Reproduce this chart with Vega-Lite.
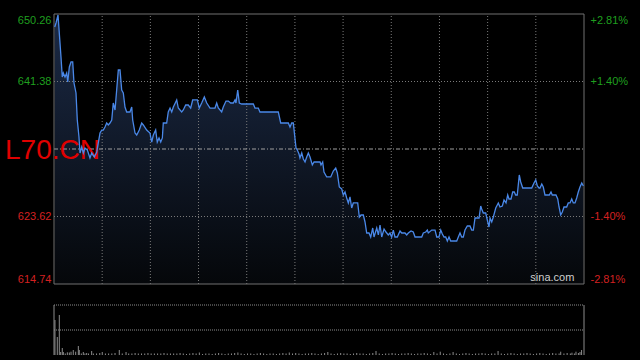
{
  "$schema": "https://vega.github.io/schema/vega-lite/v6.json",
  "width": 530,
  "height": 341,
  "autosize": {"type": "none"},
  "padding": {"left": 54, "top": 14, "right": 56, "bottom": 5},
  "background": "#000000",
  "config": {
    "view": {"stroke": null},
    "axis": {"labelFont": "Liberation Sans", "labelFontSize": 11, "ticks": false, "domain": false, "grid": false, "title": null}
  },
  "datasets": {
    "price": [
      {"t":0.9,"p":648.55},{"t":2.5,"p":649.08},{"t":5.0,"p":650.13},{"t":8.7,"p":644.60},{"t":10.3,"p":641.97},{"t":11.6,"p":642.50},{"t":13.7,"p":641.97},{"t":15.8,"p":642.50},{"t":17.1,"p":641.31},{"t":19.1,"p":643.29},{"t":21.2,"p":643.95},{"t":23.3,"p":643.95},{"t":24.9,"p":641.18},{"t":27.4,"p":639.87},{"t":29.0,"p":636.31},{"t":31.1,"p":634.08},{"t":32.4,"p":631.97},{"t":34.5,"p":632.76},{"t":36.5,"p":631.97},{"t":38.6,"p":632.63},{"t":41.5,"p":632.37},{"t":44.8,"p":631.32},{"t":46.9,"p":631.97},{"t":50.2,"p":631.45},{"t":53.2,"p":632.11},{"t":57.3,"p":634.60},{"t":59.4,"p":634.99},{"t":61.4,"p":634.99},{"t":63.5,"p":635.39},{"t":65.6,"p":635.92},{"t":67.6,"p":635.66},{"t":69.7,"p":635.92},{"t":71.9,"p":636.31},{"t":73.8,"p":638.55},{"t":76.0,"p":637.63},{"t":80.1,"p":642.89},{"t":82.2,"p":642.89},{"t":84.3,"p":640.26},{"t":86.3,"p":639.87},{"t":88.4,"p":638.02},{"t":90.5,"p":637.37},{"t":94.6,"p":637.37},{"t":96.8,"p":638.02},{"t":98.0,"p":636.31},{"t":100.9,"p":634.60},{"t":103.0,"p":634.34},{"t":106.2,"p":634.99},{"t":109.2,"p":635.92},{"t":111.2,"p":635.66},{"t":115.4,"p":634.99},{"t":119.5,"p":634.60},{"t":121.7,"p":633.42},{"t":123.7,"p":634.34},{"t":126.6,"p":634.99},{"t":128.6,"p":633.42},{"t":130.8,"p":633.95},{"t":132.9,"p":633.42},{"t":134.9,"p":633.95},{"t":136.1,"p":635.92},{"t":140.3,"p":635.92},{"t":142.3,"p":637.37},{"t":144.5,"p":637.89},{"t":146.6,"p":637.37},{"t":148.6,"p":638.02},{"t":152.8,"p":638.95},{"t":154.8,"p":637.89},{"t":159.0,"p":637.37},{"t":161.0,"p":637.63},{"t":164.0,"p":638.29},{"t":167.2,"p":638.29},{"t":170.2,"p":637.89},{"t":172.7,"p":638.95},{"t":178.5,"p":638.95},{"t":180.9,"p":637.89},{"t":183.9,"p":638.55},{"t":187.2,"p":639.34},{"t":190.2,"p":638.55},{"t":194.3,"p":637.89},{"t":200.5,"p":637.89},{"t":202.6,"p":638.55},{"t":204.6,"p":637.89},{"t":208.8,"p":637.37},{"t":210.8,"p":638.02},{"t":214.2,"p":638.81},{"t":217.1,"p":638.81},{"t":220.0,"p":638.55},{"t":223.3,"p":638.55},{"t":225.4,"p":638.95},{"t":226.6,"p":638.55},{"t":228.8,"p":640.26},{"t":230.8,"p":638.55},{"t":233.7,"p":638.42},{"t":248.2,"p":638.42},{"t":250.3,"p":637.89},{"t":254.4,"p":637.89},{"t":256.5,"p":637.37},{"t":279.3,"p":637.37},{"t":282.3,"p":635.92},{"t":291.8,"p":635.92},{"t":293.9,"p":635.39},{"t":296.0,"p":635.92},{"t":298.0,"p":635.92},{"t":301.4,"p":632.63},{"t":303.0,"p":632.37},{"t":305.1,"p":631.84},{"t":306.3,"p":631.32},{"t":308.5,"p":631.97},{"t":310.5,"p":631.18},{"t":312.6,"p":630.79},{"t":314.7,"p":631.45},{"t":316.7,"p":631.97},{"t":318.8,"p":631.45},{"t":321.7,"p":630.40},{"t":323.8,"p":630.79},{"t":331.3,"p":630.79},{"t":332.5,"p":630.40},{"t":334.6,"p":630.79},{"t":336.2,"p":629.47},{"t":339.6,"p":628.82},{"t":344.6,"p":628.82},{"t":347.8,"p":629.61},{"t":350.8,"p":630.00},{"t":352.8,"p":629.34},{"t":355.3,"p":627.50},{"t":358.3,"p":627.24},{"t":360.3,"p":626.45},{"t":362.4,"p":626.84},{"t":364.5,"p":626.05},{"t":366.5,"p":625.40},{"t":368.6,"p":626.19},{"t":370.7,"p":624.74},{"t":372.7,"p":625.40},{"t":378.2,"p":625.40},{"t":380.2,"p":623.55},{"t":382.3,"p":623.82},{"t":385.2,"p":623.82},{"t":387.3,"p":622.90},{"t":389.4,"p":621.45},{"t":392.3,"p":621.45},{"t":394.4,"p":620.92},{"t":396.9,"p":622.11},{"t":398.5,"p":620.92},{"t":401.9,"p":622.11},{"t":403.9,"p":621.19},{"t":406.0,"p":622.50},{"t":408.1,"p":620.92},{"t":411.0,"p":621.98},{"t":413.4,"p":621.58},{"t":416.3,"p":621.19},{"t":418.4,"p":621.45},{"t":420.5,"p":620.92},{"t":422.5,"p":621.84},{"t":424.6,"p":620.92},{"t":427.5,"p":620.92},{"t":430.9,"p":621.71},{"t":433.0,"p":621.45},{"t":437.1,"p":621.45},{"t":439.2,"p":621.19},{"t":441.2,"p":621.45},{"t":444.6,"p":621.71},{"t":447.4,"p":621.58},{"t":449.6,"p":620.92},{"t":457.9,"p":620.92},{"t":459.9,"p":621.45},{"t":462.9,"p":621.58},{"t":464.9,"p":621.84},{"t":466.1,"p":621.45},{"t":470.4,"p":621.84},{"t":474.5,"p":621.84},{"t":476.6,"p":620.92},{"t":479.4,"p":620.92},{"t":481.6,"p":621.84},{"t":483.6,"p":621.32},{"t":485.7,"p":620.92},{"t":487.8,"p":620.92},{"t":489.8,"p":620.40},{"t":491.9,"p":620.92},{"t":494.0,"p":620.40},{"t":501.5,"p":620.40},{"t":503.5,"p":620.92},{"t":505.6,"p":621.45},{"t":507.7,"p":620.92},{"t":509.7,"p":620.92},{"t":511.8,"p":621.84},{"t":514.7,"p":622.37},{"t":518.0,"p":622.37},{"t":520.2,"p":621.84},{"t":522.2,"p":621.84},{"t":524.3,"p":623.42},{"t":529.3,"p":623.42},{"t":531.4,"p":625.00},{"t":532.6,"p":624.61},{"t":534.6,"p":624.08},{"t":537.6,"p":624.08},{"t":539.6,"p":623.16},{"t":541.7,"p":622.24},{"t":543.0,"p":623.42},{"t":545.1,"p":622.90},{"t":547.1,"p":623.55},{"t":550.1,"p":624.74},{"t":553.3,"p":625.40},{"t":555.4,"p":624.87},{"t":558.3,"p":625.00},{"t":560.4,"p":625.79},{"t":562.9,"p":625.40},{"t":565.0,"p":626.45},{"t":566.6,"p":625.92},{"t":569.1,"p":625.92},{"t":571.2,"p":626.84},{"t":573.2,"p":626.84},{"t":574.9,"p":626.45},{"t":576.9,"p":626.45},{"t":579.4,"p":629.08},{"t":581.2,"p":628.16},{"t":583.7,"p":627.37},{"t":594.9,"p":627.37},{"t":597.7,"p":628.03},{"t":599.9,"p":628.42},{"t":601.9,"p":627.63},{"t":604.0,"p":627.37},{"t":605.2,"p":627.37},{"t":607.4,"p":627.90},{"t":609.3,"p":627.50},{"t":611.4,"p":626.45},{"t":616.8,"p":626.45},{"t":618.9,"p":626.84},{"t":620.5,"p":626.45},{"t":625.1,"p":626.45},{"t":627.3,"p":625.92},{"t":628.9,"p":624.87},{"t":631.0,"p":623.82},{"t":633.0,"p":624.21},{"t":635.1,"p":624.87},{"t":638.4,"p":624.87},{"t":640.4,"p":625.40},{"t":642.6,"p":625.40},{"t":644.7,"p":625.92},{"t":646.7,"p":625.40},{"t":648.8,"p":625.40},{"t":650.9,"p":626.05},{"t":652.9,"p":626.84},{"t":655.0,"p":627.50},{"t":657.2,"p":628.03},{"t":659.2,"p":627.63}
    ],
    "vol": [
      {"t":1.2,"v":35},{"t":4.1,"v":18},{"t":6.6,"v":40},{"t":8.3,"v":3},{"t":10.3,"v":7},{"t":11.6,"v":3},{"t":14,"v":1.5},{"t":16.6,"v":2.7},{"t":19.1,"v":2.5},{"t":21.2,"v":3.3},{"t":24,"v":5},{"t":27,"v":3.3},{"t":30.3,"v":9},{"t":31.5,"v":5},{"t":34,"v":1.5},{"t":36.5,"v":3},{"t":38.5,"v":1.5},{"t":40.7,"v":2},{"t":43,"v":1.5},{"t":46.9,"v":4},{"t":49,"v":1.5},{"t":53,"v":1.5},{"t":57,"v":2},{"t":60.1,"v":3},{"t":64,"v":1.5},{"t":68,"v":1.5},{"t":72,"v":1.5},{"t":76,"v":2},{"t":81.3,"v":5},{"t":85,"v":1.5},{"t":89.7,"v":3},{"t":93,"v":1.5},{"t":97,"v":1.5},{"t":101,"v":2},{"t":105,"v":1.5},{"t":109,"v":1.5},{"t":113,"v":1.5},{"t":117,"v":2},{"t":121,"v":1.5},{"t":125,"v":1.5},{"t":129,"v":1.5},{"t":133,"v":1.5},{"t":137,"v":2},{"t":141,"v":1.5},{"t":145,"v":1.5},{"t":149,"v":1.5},{"t":153,"v":1.5},{"t":157,"v":2},
      {"t":161,"v":1.5},{"t":165,"v":1},{"t":169,"v":1.5},{"t":173,"v":2},{"t":177,"v":1.5},{"t":181,"v":2.5},{"t":185,"v":1},{"t":189,"v":1.5},{"t":193,"v":1.5},{"t":197,"v":1},{"t":201,"v":1.5},{"t":205,"v":2},{"t":209,"v":1.5},{"t":213,"v":1},{"t":217,"v":1.5},{"t":221,"v":1.5},{"t":225,"v":2},{"t":229,"v":2.5},{"t":233,"v":1.5},{"t":237,"v":1},{"t":241,"v":1.5},{"t":245,"v":1.5},{"t":249,"v":1},{"t":253,"v":1.5},{"t":257,"v":2},{"t":261,"v":1.5},{"t":265,"v":1},{"t":269,"v":1.5},{"t":273,"v":1.5},{"t":277,"v":1},{"t":281,"v":1.5},{"t":285,"v":2},{"t":289,"v":1.5},{"t":293,"v":2.5},{"t":297,"v":1.5},{"t":301,"v":2},{"t":305,"v":1.5},{"t":309,"v":1},{"t":313,"v":1.5},{"t":317,"v":1.5},{"t":321,"v":2},{"t":325,"v":1.5},{"t":329,"v":1},{"t":333,"v":1.5},{"t":337,"v":2},{"t":341,"v":3},{"t":345,"v":1.5},{"t":349,"v":1},{"t":353,"v":1.5},{"t":357,"v":2},{"t":361,"v":1.5},{"t":365,"v":1.5},{"t":369,"v":1},{"t":373,"v":1.5},{"t":377,"v":2},{"t":381,"v":1.5},{"t":385,"v":1.5},{"t":389,"v":1},{"t":393,"v":1.5},{"t":397,"v":2},{"t":401,"v":4},{"t":405,"v":1.5},{"t":409,"v":1},{"t":413,"v":1.5},{"t":417,"v":1.5},{"t":421,"v":2},{"t":425,"v":1.5},{"t":429,"v":1},{"t":433,"v":1.5},{"t":437,"v":1.5},{"t":441,"v":2},{"t":445,"v":1.5},{"t":449,"v":1},{"t":453,"v":1.5},{"t":457,"v":1.5},{"t":461,"v":2},{"t":465,"v":1.5},{"t":469,"v":1},{"t":473,"v":3},{"t":477,"v":1.5},{"t":481,"v":3.3},{"t":485,"v":1.5},{"t":489,"v":1},{"t":493,"v":1.5},{"t":497,"v":3},{"t":501,"v":1.5},{"t":505,"v":1},{"t":509,"v":1.5},{"t":513,"v":2},{"t":517,"v":1.5},{"t":521,"v":1},{"t":525,"v":1.5},{"t":529,"v":1.5},{"t":533,"v":2},{"t":537,"v":1.5},{"t":541,"v":1},{"t":545,"v":1.5},{"t":549,"v":1.5},{"t":553,"v":4},{"t":557,"v":1.5},{"t":561,"v":1},{"t":565,"v":1.5},{"t":569,"v":2},{"t":573,"v":1.5},{"t":577,"v":1},{"t":581,"v":1.5},{"t":585,"v":1.5},{"t":589,"v":2},{"t":593,"v":1.5},{"t":597,"v":1},{"t":601,"v":1.5},{"t":605,"v":2},{"t":609,"v":1.5},{"t":613,"v":1},{"t":617,"v":1.5},{"t":621,"v":2},{"t":625,"v":1.5},{"t":629,"v":1.5},{"t":631,"v":3.3},{"t":635,"v":1.5},{"t":639,"v":2},{"t":643,"v":1.5},{"t":645,"v":2.3},{"t":648,"v":1.5},{"t":650,"v":3.3},{"t":653,"v":2},{"t":655,"v":3},{"t":657,"v":5}
    ]
  },
  "layer": [
    {
      "layer": [
        {
          "data": {"name": "price"},
          "mark": {"type": "area", "interpolate": "linear", "fill": {"gradient": "linear", "x1": 0, "y1": 0, "x2": 0, "y2": 1, "stops": [{"offset": 0, "color": "#1b2a46"}, {"offset": 1, "color": "#05070a"}]}},
          "encoding": {
            "x": {"field": "t", "type": "quantitative", "scale": {"domain": [0, 660], "nice": false, "zero": false}, "axis": null},
            "y": {"field": "p", "type": "quantitative", "scale": {"domain": [614.74, 650.26], "range": [270, 0], "nice": false, "zero": false},
                  "axis": {"orient": "left", "values": [614.74, 623.62, 641.38, 650.26], "format": ".2f", "labelPadding": 3, "labelFlush": true, "labelFlushOffset": 0,
                           "labelColor": {"condition": {"test": "datum.value > 632.5", "value": "#1f9f1f"}, "value": "#d42020"}}},
            "y2": {"datum": 614.74}
          }
        },
        {
          "data": {"values": [{"p": 641.38}, {"p": 623.62}]},
          "mark": {"type": "rule", "color": "#7a7a7a", "strokeDash": [1, 2], "strokeWidth": 1},
          "encoding": {
            "y": {"field": "p", "type": "quantitative", "axis": null},
            "x": {"datum": 0, "type": "quantitative", "axis": null},
            "x2": {"datum": 660}
          }
        },
        {
          "data": {"values": [{"t": 60}, {"t": 120}, {"t": 180}, {"t": 240}, {"t": 300}, {"t": 360}, {"t": 420}, {"t": 480}, {"t": 540}, {"t": 600}]},
          "mark": {"type": "rule", "color": "#7a7a7a", "strokeDash": [1, 2], "strokeWidth": 1},
          "encoding": {
            "x": {"field": "t", "type": "quantitative", "axis": null},
            "y": {"datum": 614.74, "type": "quantitative", "axis": null},
            "y2": {"datum": 650.26}
          }
        },
        {
          "data": {"values": [{"p": 632.5}]},
          "mark": {"type": "rule", "color": "#a0a0a0", "strokeDash": [4, 2, 1, 2], "strokeWidth": 1},
          "encoding": {
            "y": {"field": "p", "type": "quantitative", "axis": null},
            "x": {"datum": 0, "type": "quantitative", "axis": null},
            "x2": {"datum": 660}
          }
        },
        {
          "data": {"values": [{"panel": "price"}]},
          "mark": {"type": "rect", "fill": null, "fillOpacity": 0, "stroke": "#707070", "strokeWidth": 1},
          "encoding": {
            "x": {"datum": 0, "type": "quantitative", "axis": null},
            "x2": {"datum": 660},
            "y": {"datum": 614.74, "type": "quantitative", "axis": null},
            "y2": {"datum": 650.26}
          }
        },
        {
          "data": {"values": [{"label": "L70.CN"}]},
          "mark": {"type": "text", "align": "left", "baseline": "middle", "dy": 2, "font": "Liberation Sans", "fontSize": 28, "color": "#e00000"},
          "encoding": {
            "text": {"field": "label"},
            "x": {"datum": -61, "type": "quantitative", "axis": null},
            "y": {"datum": 632.5, "type": "quantitative", "axis": null}
          }
        },
        {
          "data": {"name": "price"},
          "mark": {"type": "line", "interpolate": "linear", "color": "#4a88e8", "strokeWidth": 1.3},
          "encoding": {
            "x": {"field": "t", "type": "quantitative", "axis": null},
            "y": {"field": "p", "type": "quantitative",
                  "axis": {"orient": "right", "values": [614.74, 623.62, 641.38, 650.26], "labelPadding": 6, "labelFlush": true, "labelFlushOffset": 0,
                           "labelExpr": "(datum.value > 632.5 ? '+' : '-') + format(abs(datum.value - 632.5) / 632.5 * 100, '.2f') + '%'",
                           "labelColor": {"condition": {"test": "datum.value > 632.5", "value": "#1f9f1f"}, "value": "#d42020"}}}
          }
        },
        {
          "data": {"values": [{"label": "sina.com"}]},
          "mark": {"type": "text", "align": "right", "baseline": "bottom", "dy": -1, "font": "Liberation Sans", "fontSize": 11, "color": "#cfcfcf"},
          "encoding": {
            "text": {"field": "label"},
            "x": {"datum": 648, "type": "quantitative", "axis": null},
            "y": {"datum": 614.74, "type": "quantitative", "axis": null}
          }
        }
      ],
      "resolve": {"axis": {"y": "independent"}}
    },
    {
      "layer": [
        {
          "data": {"name": "vol"},
          "mark": {"type": "rule", "color": "#8c8c8c", "strokeWidth": 1},
          "encoding": {
            "x": {"field": "t", "type": "quantitative", "axis": null},
            "y": {"field": "v", "type": "quantitative", "scale": {"domain": [0, 50], "range": [341, 291], "nice": false}, "axis": null},
            "y2": {"datum": 0}
          }
        },
        {
          "data": {"values": [{"v": 50}, {"v": 25}]},
          "mark": {"type": "rule", "color": "#8c8c8c", "strokeDash": [1, 1], "strokeWidth": 1},
          "encoding": {
            "y": {"field": "v", "type": "quantitative", "axis": null},
            "x": {"datum": 0, "type": "quantitative", "axis": null},
            "x2": {"datum": 660}
          }
        },
        {
          "data": {"values": [{"t": 0}, {"t": 660}]},
          "mark": {"type": "rule", "color": "#8c8c8c", "strokeWidth": 1},
          "encoding": {
            "x": {"field": "t", "type": "quantitative", "axis": null},
            "y": {"datum": 0, "type": "quantitative", "axis": null},
            "y2": {"datum": 50}
          }
        }
      ]
    }
  ],
  "resolve": {"scale": {"y": "independent"}}
}
